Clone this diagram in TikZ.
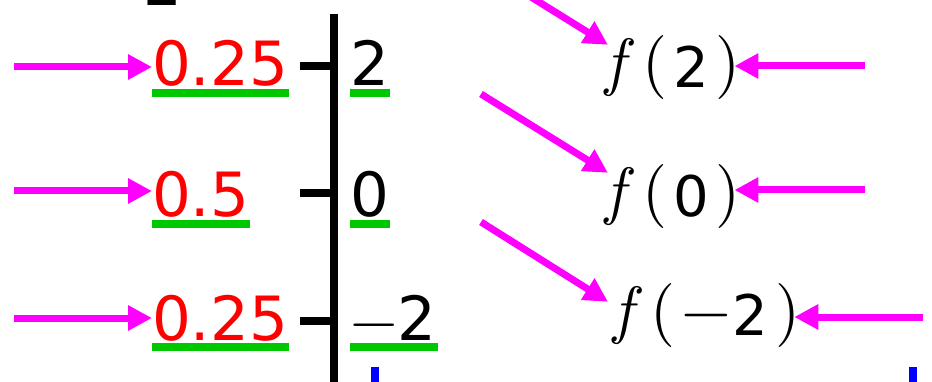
\documentclass[tikz,border=0pt]{standalone}
\usepackage{fontspec}
\setmainfont{Latin Modern Roman}
\newfontfamily\digitfont{DejaVu Sans}
\newfontfamily\lmfont{lmroman10-regular.otf}[ItalicFont=lmroman10-italic.otf]
\usetikzlibrary{arrows.meta}
\definecolor{mag}{RGB}{255,0,255}
\definecolor{grn}{RGB}{0,200,0}
\definecolor{rd}{RGB}{255,0,0}
\definecolor{blu}{RGB}{0,0,255}
\newcommand{\mns}{{\lmfont −}}
\newcommand{\lmbig}[1]{\raisebox{4pt}{\lmfont\fontsize{64}{70}\selectfont #1}}
\newcommand{\fdig}[1]{{\fontsize{56}{70}\selectfont\digitfont #1}}
\begin{document}
\begin{tikzpicture}[x=1pt,y=-1pt,
  lab/.style={inner sep=0pt, anchor=base west, font=\fontsize{61}{70}\selectfont\digitfont},
  redlab/.style={lab, text=rd},
  flab/.style={inner sep=0pt, anchor=base west},
  ul/.style={draw=grn, line width=8pt},
  arr/.style={draw=mag, line width=7pt, -{Triangle[length=24pt,width=24pt]}},
  tickline/.style={draw=black, line width=8pt},
  bluemark/.style={fill=blu}
]
\useasboundingbox (0,0) rectangle (932,382);
% partial label at top
\node[lab] (top2) at (143,6) {2};
% axis
\coordinate (axtop) at (334,14);
\coordinate (axbot) at (334,392);
\draw[tickline] (axtop) -- (axbot);
\coordinate (t1) at (300,66);
\coordinate (t2) at (300,193);
\coordinate (t3) at (300,321);
\draw[tickline] (t1) -- (t1 -| axtop);
\draw[tickline] (t2) -- (t2 -| axtop);
\draw[tickline] (t3) -- (t3 -| axtop);
% axis labels
\node[lab] (a1) at (350,86) {2};
\node[lab] (a2) at (350,217) {0};
\node[lab] (a3) at (350,340) {\mns2};
% probabilities
\node[redlab] (r1) at (152,86) {0.25};
\node[redlab] (r2) at (152,217) {0.5};
\node[redlab] (r3) at (152,340) {0.25};
% underlines
\foreach \n in {a1,a2,a3,r1,r2,r3}{
  \draw[ul] ([yshift=-7pt]\n.base west) -- ([yshift=-7pt,xshift=1pt]\n.base east);
}
% f labels
\node[flab] (f1) at (605,88) {\lmbig{\itshape f}\kern18pt\lmbig{(}\kern6pt\fdig{2}\kern6pt\lmbig{)}};
\node[flab] (f2) at (605,217) {\lmbig{\itshape f}\kern18pt\lmbig{(}\kern6pt\fdig{0}\kern6pt\lmbig{)}};
\node[flab] (f3) at (613,335) {\lmbig{\itshape f}\kern18pt\lmbig{(}\kern6pt\lmbig{−}\kern1pt\fdig{2}\kern7pt\lmbig{)}};
% left arrows
\coordinate (la1) at (14,67);
\coordinate (la2) at (14,191);
\coordinate (la3) at (14,318);
\draw[arr] (la1) -- (la1 -| r1.west);
\draw[arr] (la2) -- (la2 -| r2.west);
\draw[arr] (la3) -- (la3 -| r3.west);
% right arrows
\coordinate (ra1) at (865,66);
\coordinate (ra2) at (865,190);
\coordinate (ra3) at (923,317);
\draw[arr] (ra1) -- ([xshift=-6pt]ra1 -| f1.east);
\draw[arr] (ra2) -- ([xshift=-6pt]ra2 -| f2.east);
\draw[arr] (ra3) -- ([xshift=-6pt]ra3 -| f3.east);
% diagonal arrows
\coordinate (d1) at (481,-34);
\coordinate (d2) at (481,94);
\coordinate (d3) at (481,222);
\draw[arr] (d1) -- ([shift={(3,9)}]f1.north west);
\draw[arr] (d2) -- ([shift={(3,8)}]f2.north west);
\draw[arr] (d3) -- ([shift={(-5,19)}]f3.north west);
% blue marks
\fill[bluemark] (371,367) rectangle (379,392);
\fill[bluemark] (909,367) rectangle (917,392);
\end{tikzpicture}
\end{document}
